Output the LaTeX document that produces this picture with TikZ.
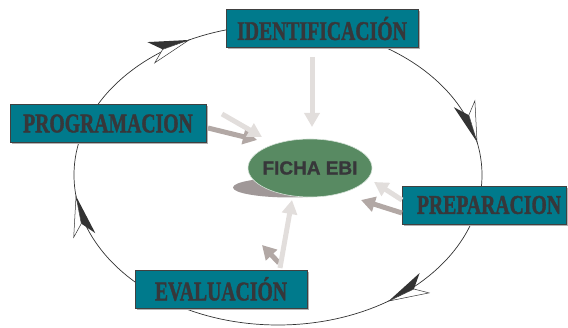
\documentclass[tikz,border=0pt]{standalone}
\usepackage{fontspec}
\setmainfont{Liberation Serif}
\newfontfamily\etapafont{Liberation Serif}[BoldFeatures={FakeBold=1.6}]
\newfontfamily\ebisans{Liberation Sans}[BoldFeatures={FakeBold=1.2}]
\usetikzlibrary{arrows.meta,decorations.markings,shadows,shapes.geometric}

\definecolor{verdeazul}{RGB}{0,122,140}
\definecolor{verdeficha}{RGB}{88,138,98}
\definecolor{grisclaro}{RGB}{226,222,220}
\definecolor{grisoscuro}{RGB}{178,168,165}
\definecolor{sombra}{RGB}{160,152,152}
\definecolor{letra}{RGB}{55,55,58}

\newcommand{\etiqueta}[1]{\scalebox{0.73}[1]{\etapafont\fontsize{27}{27}\selectfont\bfseries #1}}
\newcommand{\puntaciclo}[1]{%
  \begin{scope}[yscale=#1]
    \fill[black!80] (0pt,0pt) -- (-40pt,-12pt) -- (-28pt,0pt) -- cycle;
    \draw[black!80, fill=white, line width=0.5pt] (0pt,0pt) -- (-40pt,10pt) -- (-28pt,0pt) -- cycle;
  \end{scope}}

\tikzset{
  etapa/.style={draw=black!75, fill=verdeazul, text=letra, inner sep=0pt,
    minimum height=38pt, line width=0.6pt,
    drop shadow={shadow xshift=1.5pt, shadow yshift=-2pt, fill=black!30, opacity=1}},
  flechaclara/.style={grisclaro, line width=5pt, -{Triangle[length=14pt,width=15pt]}},
  flechaoscura/.style={grisoscuro, line width=5pt, -{Triangle[length=14pt,width=15pt]}},
}

\begin{document}
\begin{tikzpicture}[x=1pt,y=1pt]
\useasboundingbox (0,0) rectangle (568,327);

% ciclo
\draw[black!80, line width=0.7pt, postaction={decorate},
  decoration={markings,
    mark=at position 0.148 with {\puntaciclo{1}},
    mark=at position 0.481 with {\puntaciclo{1}},
    mark=at position 0.669 with {\puntaciclo{-1}},
    mark=at position 0.970 with {\puntaciclo{1}}}]
  (482,152) arc[start angle=360, end angle=0, x radius=204, y radius=150];

% ficha central
\fill[sombra] (290,139.5) ellipse (57 and 10);
\node[ellipse, fill=verdeficha, draw=white!75!verdeficha, line width=0.6pt,
  inner xsep=-4.5pt, inner ysep=0pt,
  minimum width=124pt, minimum height=58pt, text=letra] (ficha) at (310,159)
  {\ebisans\bfseries\fontsize{19}{19}\selectfont FICHA EBI};

% etapas
\node[etapa, minimum width=192pt] (ident) at (322,298.5) {\etiqueta{IDENTIFICACIÓN}};
\node[etapa, minimum width=196pt] (prog)  at (108,203.5) {\etiqueta{PROGRAMACION}\hspace{8pt}};
\node[etapa, minimum width=164pt] (prep)  at (484,122)   {\hspace{10pt}\etiqueta{PREPARACION}};
\node[etapa, minimum width=172pt] (eval)  at (221,38)    {\etiqueta{EVALUACIÓN}};

% flechas hacia la ficha
\coordinate (id-a) at (312,270); \coordinate (id-b) at (312,200);
\coordinate (pr-a) at (208,199); \coordinate (pr-b) at (257,187);
\coordinate (pr-c) at (222,213); \coordinate (pr-d) at (262,190);
\coordinate (pp-a) at (402,114); \coordinate (pp-b) at (361,127);
\coordinate (pp-c) at (402,127); \coordinate (pp-d) at (374,145);
\coordinate (ev-a) at (279,64);  \coordinate (ev-b) at (262,82);
\coordinate (ev-c) at (280,59);  \coordinate (ev-d) at (292,127);

\draw[flechaclara]  (id-a) -- (id-b);
\draw[flechaoscura] (pr-a) -- (pr-b);
\draw[flechaclara]  (pr-c) -- (pr-d);
\draw[flechaoscura] (pp-a) -- (pp-b);
\draw[flechaclara]  (pp-c) -- (pp-d);
\draw[flechaoscura] (ev-a) -- (ev-b);
\draw[flechaclara]  (ev-c) -- (ev-d);
\end{tikzpicture}
\end{document}
